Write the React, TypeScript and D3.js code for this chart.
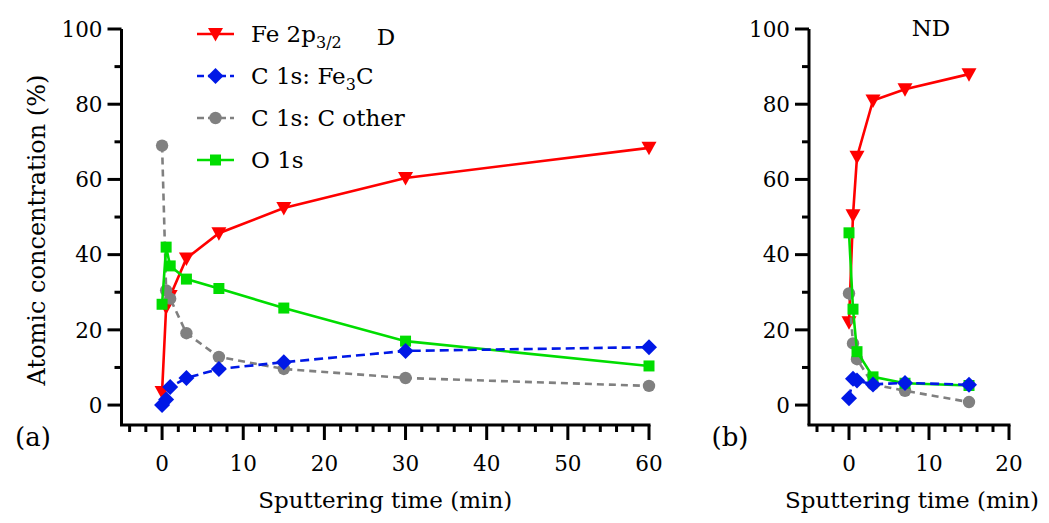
import React, { useRef, useEffect } from 'react';
import * as d3 from 'd3';

// panel (a) D
const timeD = [0, 0.5, 1, 3, 7, 15, 30, 60];
const feD = [3.5, 26, 29, 39, 45.7, 52.4, 60.4, 68.4];
const fe3cD = [0, 1.5, 4.8, 7.2, 9.6, 11.4, 14.4, 15.4];
const cOtherD = [69, 30.5, 28.3, 19.1, 12.8, 9.6, 7.2, 5.1];
const oD = [26.8, 42, 37, 33.5, 31, 25.8, 17, 10.4];

// panel (b) ND
const timeND = [0, 0.5, 1, 3, 7, 15];
const feND = [22, 50.5, 66, 81, 84, 88];
const fe3cND = [1.8, 7, 6.5, 5.5, 5.9, 5.4];
const cOtherND = [29.7, 16.4, 12.2, 5.5, 3.8, 0.8];
const oND = [45.8, 25.5, 14.2, 7.5, 5.8, 5.2];

const yTicks = [0, 20, 40, 60, 80, 100];
const xTicksD = [0, 10, 20, 30, 40, 50, 60];
const xTicksND = [0, 10, 20];

const FONT = 'DejaVu Serif';

const seriesStyle = [
  { key: 'fe', color: '#ff0000', dash: null, marker: 'tri' },
  { key: 'cother', color: '#808080', dash: '7,5', marker: 'circle' },
  { key: 'o', color: '#00dd00', dash: null, marker: 'square' },
  { key: 'fe3c', color: '#0018e6', dash: '9,5', marker: 'diamond' },
];

const markerPath = (m: string) => {
  if (m === 'tri') return 'M-7.5,-6 L7.5,-6 L0,7.5 Z';
  if (m === 'diamond') return 'M0,-8 L8,0 L0,8 L-8,0 Z';
  if (m === 'square') return 'M-5.5,-5.5 L5.5,-5.5 L5.5,5.5 L-5.5,5.5 Z';
  return d3.symbol().type(d3.symbolCircle).size(Math.PI * 6.2 * 6.2)() as string;
};

const App = () => {
  const svgRef = useRef<SVGSVGElement | null>(null);

  useEffect(() => {
    const svg = d3.select(svgRef.current);
    svg.selectAll('*').remove();

    const yScale = d3.scaleLinear().domain([-5.3, 100]).range([425, 29]);

    const drawPanel = (
      x0: number, x1: number, xMax: number, ticks: number[],
      times: number[], data: { [k: string]: number[] }
    ) => {
      const xScale = d3.scaleLinear().domain([-5, xMax]).range([x0, x1]);
      const g = svg.append('g');

      // axes lines
      g.append('line').attr('x1', x0).attr('x2', x0).attr('y1', yScale(100)).attr('y2', 425)
        .attr('stroke', '#000').attr('stroke-width', 3);
      g.append('line').attr('x1', x0 - 1.5).attr('x2', x1 + 1.5).attr('y1', 425).attr('y2', 425)
        .attr('stroke', '#000').attr('stroke-width', 3);

      // y ticks
      d3.range(0, 101, 10).forEach(v => {
        const major = v % 20 === 0;
        g.append('line').attr('x1', x0).attr('x2', x0 - (major ? 14 : 7))
          .attr('y1', yScale(v)).attr('y2', yScale(v)).attr('stroke', '#000').attr('stroke-width', 3);
      });
      yTicks.forEach(v => {
        g.append('text').attr('x', x0 - 19).attr('y', yScale(v)).attr('dy', '0.36em')
          .attr('text-anchor', 'end').style('font-family', FONT).style('font-size', '21.5px').text(v);
      });

      // x ticks
      d3.range(-4, xMax + 1, 2).forEach(v => {
        const major = v % 10 === 0;
        g.append('line').attr('x1', xScale(v)).attr('x2', xScale(v)).attr('y1', 425)
          .attr('y2', 425 + (major ? 15 : 7)).attr('stroke', '#000').attr('stroke-width', 3);
      });
      ticks.forEach(v => {
        g.append('text').attr('x', xScale(v)).attr('y', 471).attr('text-anchor', 'middle')
          .style('font-family', FONT).style('font-size', '21.5px').text(v);
      });

      // series
      seriesStyle.forEach(s => {
        const vals = data[s.key];
        const pts: [number, number][] = times.map((t, i) => [xScale(t), yScale(vals[i])]);
        g.append('path').attr('d', d3.line()(pts)).attr('fill', 'none')
          .attr('stroke', s.color).attr('stroke-width', 2.6)
          .attr('stroke-dasharray', s.dash);
        g.selectAll(null).data(pts).enter().append('path')
          .attr('d', markerPath(s.marker))
          .attr('transform', d => `translate(${d[0]},${d[1]})`)
          .attr('fill', s.color);
      });

      // x title
      g.append('text').attr('x', (x0 + x1) / 2 + (xMax === 60 ? 0 : 3)).attr('y', 508)
        .attr('text-anchor', 'middle').style('font-family', FONT).style('font-size', '23px')
        .text('Sputtering time (min)');
      return xScale;
    };

    drawPanel(121.5, 649, 60, xTicksD, timeD, { fe: feD, fe3c: fe3cD, cother: cOtherD, o: oD });
    drawPanel(809, 1009, 20, xTicksND, timeND, { fe: feND, fe3c: fe3cND, cother: cOtherND, o: oND });

    // y title
    svg.append('text').attr('transform', 'translate(45,230) rotate(-90)').attr('text-anchor', 'middle')
      .style('font-family', FONT).style('font-size', '24px').text('Atomic concentration (%)');

    svg.append('text').attr('x', 33).attr('y', 446).attr('text-anchor', 'middle')
      .style('font-family', FONT).style('font-size', '26px').text('(a)');
    svg.append('text').attr('x', 730).attr('y', 446).attr('text-anchor', 'middle')
      .style('font-family', FONT).style('font-size', '26px').text('(b)');
    svg.append('text').attr('x', 386).attr('y', 45).attr('text-anchor', 'middle')
      .style('font-family', FONT).style('font-size', '23px').text('D');
    svg.append('text').attr('x', 931).attr('y', 36).attr('text-anchor', 'middle')
      .style('font-family', FONT).style('font-size', '23px').text('ND');

    // legend
    const legendItems = [
      { s: seriesStyle[0], parts: [['Fe 2p', false], ['3/2', true]] },
      { s: seriesStyle[3], parts: [['C 1s: Fe', false], ['3', true], ['C', false]] },
      { s: seriesStyle[1], parts: [['C 1s: C other', false]] },
      { s: seriesStyle[2], parts: [['O 1s', false]] },
    ];
    legendItems.forEach((item, i) => {
      const y = 34 + i * 42;
      const lg = svg.append('g');
      lg.append('line').attr('x1', 197).attr('x2', 234).attr('y1', y).attr('y2', y)
        .attr('stroke', item.s.color).attr('stroke-width', 2.6)
        .attr('stroke-dasharray', item.s.dash ? '7,4' : null);
      lg.append('path').attr('d', markerPath(item.s.marker))
        .attr('transform', `translate(215.5,${y})`).attr('fill', item.s.color);
      const t = lg.append('text').attr('x', 251).attr('y', y).attr('dy', '0.36em')
        .style('font-family', FONT).style('font-size', '23px');
      item.parts.forEach(([txt, sub]) => {
        const ts = t.append('tspan').text(txt as string);
        if (sub) ts.attr('dy', 6).style('font-size', '16px');
        else if (t.selectAll('tspan').size() > 1) ts.attr('dy', -6);
      });
    });
  }, []);

  return (
    <svg ref={svgRef} width={1049} height={523} style={{ display: 'block', position: 'absolute', left: 0, top: 0, background: '#fff' }} />
  );
};

export default App;
